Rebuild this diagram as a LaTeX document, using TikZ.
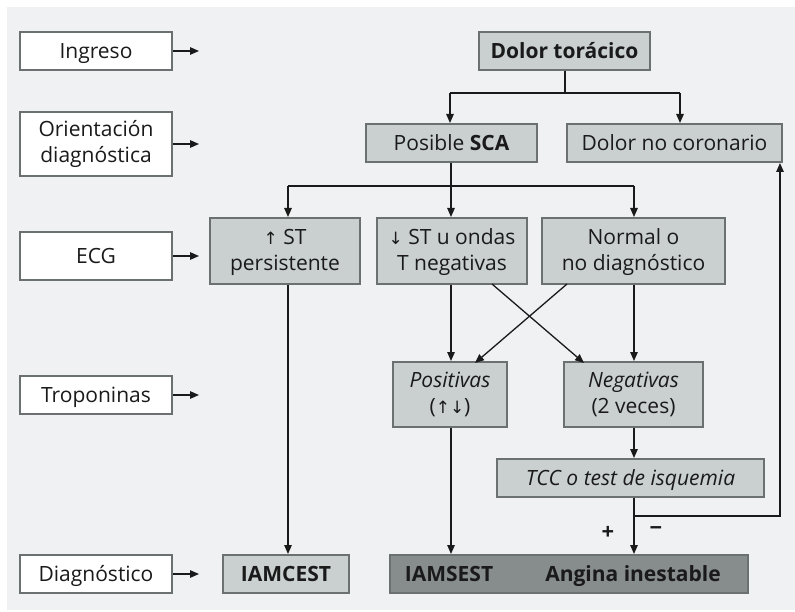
\documentclass[tikz,border=0pt]{standalone}
\usepackage{fontspec}
\setmainfont{Open Sans}
\newfontfamily\arrfont{DejaVu Sans}
\usetikzlibrary{arrows.meta,calc}
\definecolor{bg}{HTML}{EFF1F3}
\definecolor{boxfill}{HTML}{C9D0CF}
\definecolor{boxdark}{HTML}{878C8D}
\definecolor{edge}{HTML}{6B7070}
\definecolor{ink}{HTML}{1A1A1A}
\begin{document}
\begin{tikzpicture}[x=1pt,y=-1pt,
  every node/.style={font=\fontsize{21}{26}\selectfont, text=ink, inner sep=0pt, align=center},
  one/.style={text height=15pt, text depth=0pt},
  lab/.style={draw=edge, line width=2pt, fill=white, minimum width=152pt},
  gbox/.style={draw=edge, line width=2pt, fill=boxfill},
  dbox/.style={draw=edge, line width=2pt, fill=boxdark},
  conn/.style={line width=1.3pt, draw=ink},
  arr/.style={conn, -{Triangle[length=9pt,width=7.5pt]}}
]
\useasboundingbox[fill=white] (0,0) rectangle (795,612);
\fill[bg] (7,7) rectangle (795,610);

% left labels
\node[lab, one, minimum height=38pt] (ingreso) at (96,51) {Ingreso};
\node[lab, minimum height=64pt] (orient) at (96,144) {Orientación\\diagnóstica};
\node[lab, one, minimum height=48pt] (ecg) at (96,256) {ECG};
\node[lab, one, minimum height=38pt] (trop) at (96,395) {Troponinas};
\node[lab, one, minimum height=38pt] (diag) at (96,574) {Diagnóstico};

\foreach \n in {ingreso,orient,ecg,trop,diag}
  \draw[arr] (\n.east) -- ++(26,0) coordinate (\n-end);

% main boxes
\node[gbox, one, minimum width=171pt, minimum height=38pt] (dolor) at (564.5,51) {\bfseries Dolor torácico};
\node[gbox, one, minimum width=171pt, minimum height=38pt] (sca) at (451.5,143) {Posible \textbf{SCA}};
\node[gbox, one, minimum width=215pt, minimum height=38pt] (noc) at (674.5,143) {Dolor no coronario};
\node[gbox, minimum width=150pt, minimum height=66pt, text depth=3pt] (stup) at (285,251) {{\arrfont\fontsize{17}{26}\selectfont ↑} ST\\persistente};
\node[gbox, minimum width=150pt, minimum height=66pt, text depth=3pt] (stdown) at (452,251) {{\arrfont\fontsize{17}{26}\selectfont ↓} ST u ondas\\T negativas};
\node[gbox, minimum width=183pt, minimum height=66pt, text depth=3pt] (normal) at (633.5,251) {Normal o\\no diagnóstico};
\node[gbox, minimum width=114pt, minimum height=65pt, text depth=3pt] (pos) at (450,394.5) {\itshape Positivas\\({\arrfont\fontsize{17}{26}\selectfont ↑↓})};
\node[gbox, minimum width=139pt, minimum height=65pt, text depth=3pt] (neg) at (633.5,394.5) {\itshape Negativas\\(2 veces)};
\node[gbox, one, minimum width=267pt, minimum height=38pt] (tcc) at (630.5,478) {\itshape TCC o test de isquemia};
\node[gbox, one, minimum width=126pt, minimum height=38pt] (iamcest) at (286,574) {\bfseries IAMCEST};
\node[dbox, minimum width=358pt, minimum height=38pt] (final) at (569,574) {};
\node[one] (iamsest) at (449,574) {\bfseries IAMSEST};
\node[one] (angina) at (633,574) {\bfseries Angina inestable};

% connectors
\coordinate (b1) at (565,93);
\coordinate (bl) at (450,93);
\coordinate (br) at (680,93);
\draw[conn] (dolor.south -| b1) -- (b1);
\draw[conn] (bl) -- (br);
\draw[arr] (bl) -- (bl |- sca.north);
\draw[arr] (br) -- (br |- noc.north);

\coordinate (c1) at (451,186);
\coordinate (cl) at (288,186);
\coordinate (cr) at (634,186);
\draw[conn] (c1 |- sca.south) -- (c1);
\draw[conn] (cl) -- (cr);
\draw[arr] (cl) -- (cl |- stup.north);
\draw[arr] (c1) -- (c1 |- stdown.north);
\draw[arr] (cr) -- (cr |- normal.north);

\draw[arr] (cl |- stup.south) -- (cl |- iamcest.north);
\draw[arr] (c1 |- stdown.south) -- (c1 |- pos.north);
\draw[arr] (cr |- normal.south) -- (cr |- neg.north);

\coordinate (x1) at (492,284);
\coordinate (x2) at (584,363);
\coordinate (x3) at (567,284);
\coordinate (x4) at (475,363);
\draw[arr] (x1) -- (x2);
\draw[arr] (x3) -- (x4);

\draw[arr] (cr |- neg.south) -- (cr |- tcc.north);
\draw[arr] (cr |- tcc.south) -- (cr |- final.north);
\draw[arr] (c1 |- pos.south) -- (c1 |- final.north);

\coordinate (r1) at (634,516);
\coordinate (r2) at (780,516);
\draw[arr] (r1) -- (r2) -- (r2 |- noc.south);

\node[font=\fontsize{22}{24}\selectfont\bfseries] (plus) at (608,533) {+};
\node[font=\fontsize{22}{24}\selectfont\bfseries] (minus) at (656,531) {−};
\end{tikzpicture}
\end{document}
